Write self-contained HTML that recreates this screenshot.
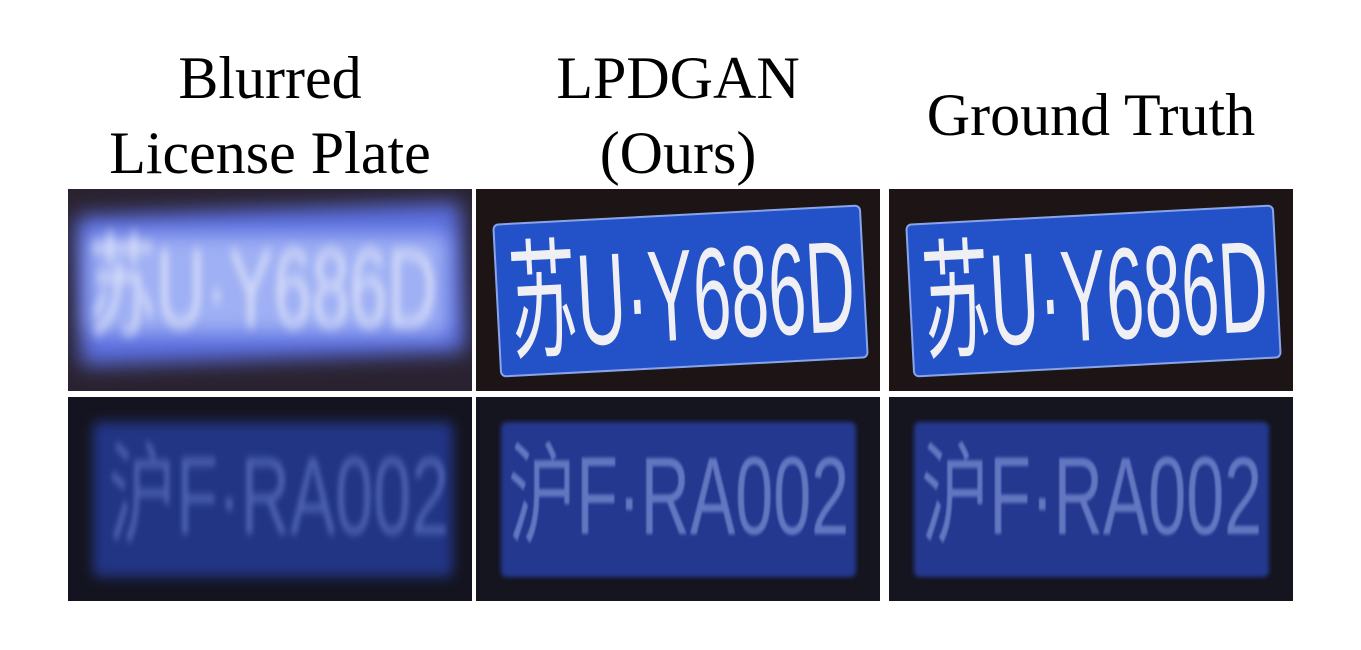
<!DOCTYPE html>
<html><head><meta charset="utf-8"><style>
body{margin:0;width:1361px;height:650px;background:#fff;position:relative;overflow:hidden;font-family:"Liberation Serif","Noto Serif CJK SC",serif;}
.h{position:absolute;font-size:60px;color:#000;text-align:center;line-height:75px;}
.c{position:absolute;overflow:hidden;}
.p{position:absolute;border-radius:6px;}
.t{position:absolute;font-family:"Liberation Sans","Noto Sans CJK SC",sans-serif;white-space:nowrap;line-height:1;}
</style></head><body>
<div class="h" style="left:68px;width:404px;top:41px">Blurred<br>License Plate</div>
<div class="h" style="left:476px;width:404px;top:41px">LPDGAN<br>(Ours)</div>
<div class="h" style="left:889px;width:404px;top:78px">Ground Truth</div>

<!-- row1 -->
<div class="c" style="left:68px;top:189px;width:404px;height:202px;background:#2a2230">
 <div class="p" style="left:10px;top:20px;width:385px;height:150px;background:#5b6fe0;filter:blur(10px);transform:rotate(-2deg)"></div>
 <div class="p" style="left:20px;top:45px;width:360px;height:100px;background:#9fb0f4;filter:blur(10px)"></div>
 <div class="t" style="left:20px;top:45px;font-size:110px;color:#d8def8;filter:blur(6px);transform:scaleX(0.62);transform-origin:left top">苏U·Y686D</div>
</div>
<div class="c" style="left:476px;top:189px;width:404px;height:202px;background:#1d1416">
 <div class="p" style="left:20px;top:25px;width:365px;height:150px;background:#2352c8;transform:rotate(-3deg);border:2px solid #8aa4e8"></div>
 <div class="t" style="left:30px;top:50px;font-size:130px;color:#f0f0f4;transform:rotate(-3deg) scaleX(0.52);transform-origin:left top">苏U·Y686D</div>
</div>
<div class="c" style="left:889px;top:189px;width:404px;height:202px;background:#1d1416">
 <div class="p" style="left:20px;top:25px;width:365px;height:150px;background:#2352c8;transform:rotate(-3deg);border:2px solid #8aa4e8"></div>
 <div class="t" style="left:30px;top:50px;font-size:130px;color:#f0f0f4;transform:rotate(-3deg) scaleX(0.52);transform-origin:left top">苏U·Y686D</div>
</div>

<!-- row2 -->
<div class="c" style="left:68px;top:397px;width:404px;height:204px;background:#141420">
 <div class="p" style="left:25px;top:25px;width:360px;height:155px;background:#223585;filter:blur(6px)"></div>
 <div class="t" style="left:40px;top:45px;font-size:110px;color:#4c60b0;filter:blur(4px);transform:scaleX(0.62);transform-origin:left top">沪F·RA002</div>
</div>
<div class="c" style="left:476px;top:397px;width:404px;height:204px;background:#151520">
 <div class="p" style="left:25px;top:25px;width:355px;height:155px;background:#243890;filter:blur(2px)"></div>
 <div class="t" style="left:32px;top:45px;font-size:110px;color:#6377c0;filter:blur(1.5px);transform:scaleX(0.62);transform-origin:left top">沪F·RA002</div>
</div>
<div class="c" style="left:889px;top:397px;width:404px;height:204px;background:#151520">
 <div class="p" style="left:25px;top:25px;width:355px;height:155px;background:#243890;filter:blur(2px)"></div>
 <div class="t" style="left:32px;top:45px;font-size:110px;color:#6377c0;filter:blur(1.5px);transform:scaleX(0.62);transform-origin:left top">沪F·RA002</div>
</div>
</body></html>
